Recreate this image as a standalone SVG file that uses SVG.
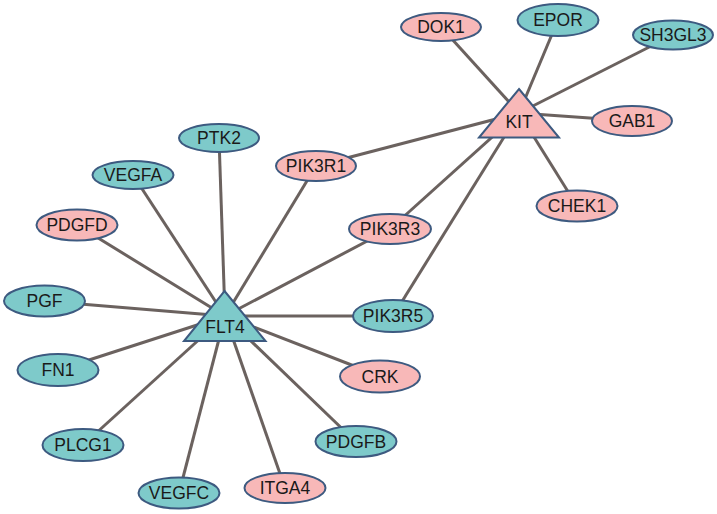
<svg xmlns="http://www.w3.org/2000/svg" width="717" height="514" viewBox="0 0 717 514">
<style>
.e{stroke:#6b625f;stroke-width:3;fill:none}
.p{fill:#f8b8b8;stroke:#3d5a80;stroke-width:2}
.t{fill:#7ecaca;stroke:#3d5a80;stroke-width:2}
text{font-family:"Liberation Sans",Arial,sans-serif;font-size:17.5px;fill:#1a1a1a;text-anchor:middle;dominant-baseline:central}
</style>
<rect width="717" height="514" fill="#ffffff"/>
<g id="edges">
<line class="e" x1="519" y1="113" x2="441" y2="27"/>
<line class="e" x1="519" y1="113" x2="558" y2="20"/>
<line class="e" x1="519" y1="113" x2="673" y2="35"/>
<line class="e" x1="519" y1="113" x2="632" y2="121"/>
<line class="e" x1="519" y1="113" x2="577" y2="206"/>
<line class="e" x1="519" y1="113" x2="316" y2="166"/>
<line class="e" x1="519" y1="113" x2="390" y2="229"/>
<line class="e" x1="519" y1="113" x2="393" y2="316"/>
<line class="e" x1="225" y1="316" x2="219" y2="138"/>
<line class="e" x1="225" y1="316" x2="133" y2="175"/>
<line class="e" x1="225" y1="316" x2="77" y2="225"/>
<line class="e" x1="225" y1="316" x2="44" y2="301"/>
<line class="e" x1="225" y1="316" x2="58" y2="370"/>
<line class="e" x1="225" y1="316" x2="83" y2="445"/>
<line class="e" x1="225" y1="316" x2="179" y2="493"/>
<line class="e" x1="225" y1="316" x2="285" y2="488"/>
<line class="e" x1="225" y1="316" x2="356" y2="442"/>
<line class="e" x1="225" y1="316" x2="380" y2="376"/>
<line class="e" x1="225" y1="316" x2="393" y2="316"/>
<line class="e" x1="225" y1="316" x2="390" y2="229"/>
<line class="e" x1="225" y1="316" x2="316" y2="166"/>
</g>
<g id="KIT"><polygon class="p" points="519,89 559,137.5 479,137.5"/><text x="519" y="122">KIT</text></g>
<g id="FLT4"><polygon class="t" points="224.5,291 265.5,341 184,341"/><text x="225" y="327">FLT4</text></g>
<g id="DOK1"><ellipse class="p" cx="441" cy="27" rx="40" ry="14"/><text x="441" y="27">DOK1</text></g>
<g id="EPOR"><ellipse class="t" cx="558" cy="20" rx="40.5" ry="16"/><text x="558" y="20">EPOR</text></g>
<g id="SH3GL3"><ellipse class="t" cx="673" cy="35" rx="40" ry="14.5"/><text x="673" y="35">SH3GL3</text></g>
<g id="GAB1"><ellipse class="p" cx="632" cy="121" rx="40" ry="15"/><text x="632" y="121">GAB1</text></g>
<g id="CHEK1"><ellipse class="p" cx="577" cy="206" rx="40.5" ry="15.5"/><text x="577" y="206">CHEK1</text></g>
<g id="PTK2"><ellipse class="t" cx="219" cy="138" rx="40" ry="14"/><text x="219" y="138">PTK2</text></g>
<g id="VEGFA"><ellipse class="t" cx="133" cy="175" rx="40.5" ry="14"/><text x="133" y="175">VEGFA</text></g>
<g id="PIK3R1"><ellipse class="p" cx="316" cy="166" rx="40" ry="15"/><text x="316" y="166">PIK3R1</text></g>
<g id="PDGFD"><ellipse class="p" cx="77" cy="225" rx="40.5" ry="15.5"/><text x="77" y="225">PDGFD</text></g>
<g id="PIK3R3"><ellipse class="p" cx="390" cy="229" rx="41" ry="15"/><text x="390" y="229">PIK3R3</text></g>
<g id="PGF"><ellipse class="t" cx="44.5" cy="301" rx="40.5" ry="15.5"/><text x="44.5" y="301">PGF</text></g>
<g id="PIK3R5"><ellipse class="t" cx="393" cy="316" rx="40" ry="16"/><text x="393" y="316">PIK3R5</text></g>
<g id="FN1"><ellipse class="t" cx="58" cy="370" rx="40.5" ry="16"/><text x="58" y="370">FN1</text></g>
<g id="CRK"><ellipse class="p" cx="380" cy="376.5" rx="40" ry="16"/><text x="380" y="376.5">CRK</text></g>
<g id="PLCG1"><ellipse class="t" cx="83" cy="445" rx="40.5" ry="16"/><text x="83" y="445">PLCG1</text></g>
<g id="PDGFB"><ellipse class="t" cx="356" cy="441.5" rx="40.5" ry="15.5"/><text x="356" y="441.5">PDGFB</text></g>
<g id="ITGA4"><ellipse class="p" cx="285" cy="488" rx="40.5" ry="15"/><text x="285" y="488">ITGA4</text></g>
<g id="VEGFC"><ellipse class="t" cx="179" cy="493" rx="40.5" ry="15.5"/><text x="179" y="493">VEGFC</text></g>
</svg>
